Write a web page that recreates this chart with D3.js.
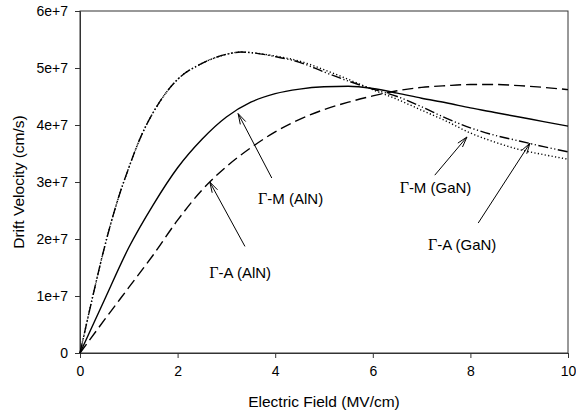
<!DOCTYPE html>
<html>
<head>
<meta charset="utf-8">
<script src="https://cdn.jsdelivr.net/npm/d3@7"></script>
<style>
  html, body { margin: 0; padding: 0; background: #fff; }
  svg { display: block; font-family: Arial, "Liberation Sans", sans-serif; }
</style>
</head>
<body>
<svg id="chart" width="576" height="414"></svg>
<script>
// ---------- data (E in MV/cm, v in 1e7 cm/s) ----------
const gmGaN_E = [0, 0.25, 0.5, 0.75, 1.0, 1.25, 1.5, 1.75, 2.0, 2.5, 3.0, 3.3, 3.5, 4.0, 4.5, 5.0, 5.5, 6.0, 6.5, 7.0, 7.5, 8.0, 8.5, 9.0, 9.5, 10];
const gmGaN_V = [0, 0.95, 1.85, 2.62, 3.25, 3.8, 4.22, 4.55, 4.8, 5.08, 5.24, 5.28, 5.27, 5.2, 5.1, 4.93, 4.77, 4.63, 4.5, 4.32, 4.12, 3.95, 3.82, 3.72, 3.62, 3.53];

const gaGaN_E = [0, 0.25, 0.5, 0.75, 1.0, 1.25, 1.5, 1.75, 2.0, 2.5, 3.0, 3.3, 3.5, 4.0, 4.5, 5.0, 5.5, 6.0, 6.5, 7.0, 7.5, 8.0, 8.5, 9.0, 9.5, 10];
const gaGaN_V = [0, 0.95, 1.85, 2.62, 3.25, 3.8, 4.22, 4.55, 4.8, 5.08, 5.24, 5.28, 5.27, 5.21, 5.12, 4.97, 4.8, 4.62, 4.45, 4.26, 4.07, 3.86, 3.7, 3.57, 3.48, 3.4];

const gmAlN_E = [0, 0.5, 1.0, 1.5, 2.0, 2.5, 3.0, 3.5, 4.0, 4.5, 5.0, 5.5, 6.0, 6.5, 7.0, 7.5, 8.0, 8.5, 9.0, 9.5, 10];
const gmAlN_V = [0, 0.93, 1.85, 2.6, 3.25, 3.75, 4.14, 4.4, 4.55, 4.63, 4.67, 4.68, 4.64, 4.56, 4.47, 4.39, 4.3, 4.22, 4.14, 4.06, 3.98];

const gaAlN_E = [0, 0.5, 1.0, 1.5, 2.0, 2.5, 3.0, 3.5, 4.0, 4.5, 5.0, 5.5, 6.0, 6.5, 7.0, 7.5, 8.0, 8.5, 9.0, 9.5, 10];
const gaAlN_V = [0, 0.58, 1.15, 1.72, 2.33, 2.86, 3.27, 3.6, 3.88, 4.1, 4.27, 4.4, 4.51, 4.6, 4.66, 4.69, 4.71, 4.71, 4.69, 4.66, 4.62];

const xTicks = [0, 2, 4, 6, 8, 10];
const yTicks = [0, 1, 2, 3, 4, 5, 6];
const yTickLabels = ["0", "1e+7", "2e+7", "3e+7", "4e+7", "5e+7", "6e+7"];

const annotations = [
  { greek: "Γ", text: "-M (AlN)", tipE: 3.24, tipV: 4.2, tailE: 3.93, tailV: 3.07, labE: 3.65, labV: 2.62 },
  { greek: "Γ", text: "-A (AlN)", tipE: 2.66, tipV: 3.0, tailE: 3.38, tailV: 1.87, labE: 2.65, labV: 1.32 },
  { greek: "Γ", text: "-M (GaN)", tipE: 7.93, tipV: 3.79, tailE: 7.27, tailV: 3.12, labE: 6.55, labV: 2.81 },
  { greek: "Γ", text: "-A (GaN)", tipE: 9.22, tipV: 3.68, tailE: 8.16, tailV: 2.28, labE: 7.13, labV: 1.8 }
];

// ---------- layout ----------
const svg = d3.select("#chart");
const mLeft = 80, mRight = 568, mTop = 11, mBottom = 353;

const x = d3.scaleLinear().domain([0, 10]).range([mLeft, mRight]);
const y = d3.scaleLinear().domain([0, 6]).range([mBottom, mTop]);

// frame
svg.append("rect")
  .attr("x", mLeft).attr("y", mTop)
  .attr("width", mRight - mLeft).attr("height", mBottom - mTop)
  .attr("fill", "none").attr("stroke", "#333").attr("stroke-width", 1);

// axes
const xAxis = d3.axisBottom(x).tickValues(xTicks).tickSize(5).tickPadding(8).tickFormat(d3.format("d"));
const yAxis = d3.axisLeft(y).tickValues(yTicks).tickSize(5).tickPadding(7).tickFormat((d, i) => yTickLabels[i]);

const gx = svg.append("g").attr("transform", `translate(0,${mBottom})`).call(xAxis);
const gy = svg.append("g").attr("transform", `translate(${mLeft},0)`).call(yAxis);
[gx, gy].forEach(g => {
  g.select(".domain").attr("stroke", "#333");
  g.selectAll(".tick line").attr("stroke", "#333");
  g.selectAll(".tick text").attr("font-size", 14).attr("fill", "#000")
    .attr("font-family", "Arial, 'Liberation Sans', sans-serif");
});

// axis titles
svg.append("text")
  .attr("x", (mLeft + mRight) / 2).attr("y", 407)
  .attr("text-anchor", "middle").attr("font-size", 15.5).attr("fill", "#000")
  .text("Electric Field (MV/cm)");
svg.append("text")
  .attr("transform", `translate(24,${(mTop + mBottom) / 2}) rotate(-90)`)
  .attr("text-anchor", "middle").attr("font-size", 15.5).attr("fill", "#000")
  .text("Drift Velocity (cm/s)");

// curves
const line = d3.line().x(d => x(d[0])).y(d => y(d[1])).curve(d3.curveMonotoneX);
const series = [
  { E: gaGaN_E, V: gaGaN_V, dash: "1.2,2.3" },
  { E: gmGaN_E, V: gmGaN_V, dash: "10,2.5,1.2,2.5,1.2,2.5" },
  { E: gmAlN_E, V: gmAlN_V, dash: null },
  { E: gaAlN_E, V: gaAlN_V, dash: "11,5" }
];
series.forEach(s => {
  svg.append("path")
    .datum(s.E.map((e, i) => [e, s.V[i]]))
    .attr("d", line)
    .attr("fill", "none")
    .attr("stroke", "#000")
    .attr("stroke-width", 1.4)
    .attr("stroke-dasharray", s.dash);
});

// annotations with open arrowheads
annotations.forEach(a => {
  const x1 = x(a.tailE), y1 = y(a.tailV), x2 = x(a.tipE), y2 = y(a.tipV);
  svg.append("line").attr("x1", x1).attr("y1", y1).attr("x2", x2).attr("y2", y2)
    .attr("stroke", "#000").attr("stroke-width", 1);
  const ang = Math.atan2(y1 - y2, x1 - x2);
  const L = 11, spread = 0.28;
  [ang - spread, ang + spread].forEach(a2 => {
    svg.append("line")
      .attr("x1", x2).attr("y1", y2)
      .attr("x2", x2 + L * Math.cos(a2)).attr("y2", y2 + L * Math.sin(a2))
      .attr("stroke", "#000").attr("stroke-width", 1);
  });
  const t = svg.append("text")
    .attr("x", x(a.labE)).attr("y", y(a.labV))
    .attr("font-size", 15).attr("fill", "#000");
  t.append("tspan").attr("font-family", "'Times New Roman', 'Liberation Serif', serif").attr("font-size", 16).text(a.greek);
  t.append("tspan").text(a.text);
});
</script>
</body>
</html>
